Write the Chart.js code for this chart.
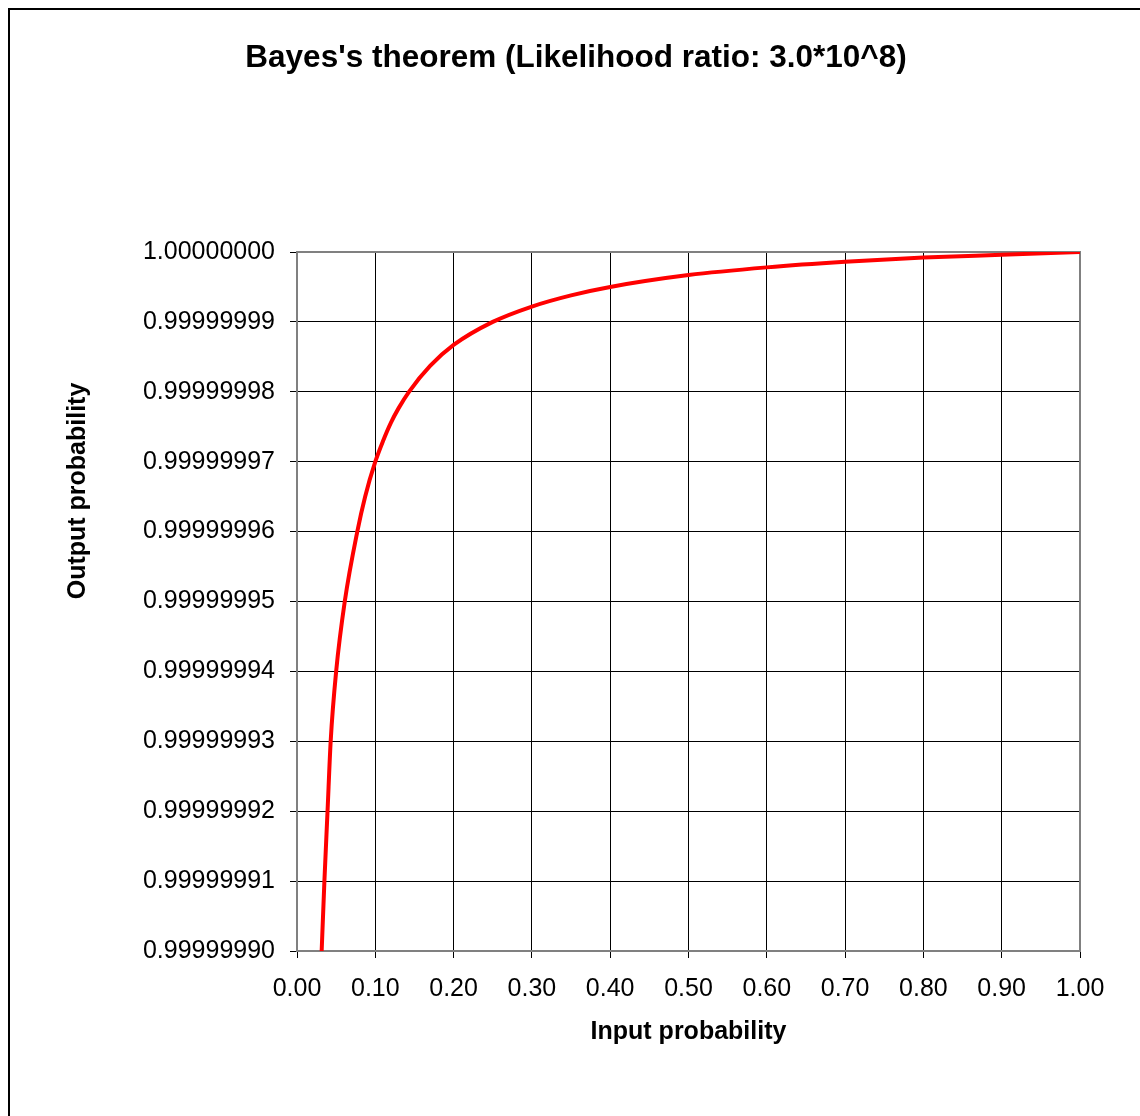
<!DOCTYPE html>
<html>
<head>
<meta charset="utf-8">
<script src="https://cdn.jsdelivr.net/npm/chart.js@4"></script>
<style>
  html, body { margin: 0; padding: 0; background: #fff; }
  #wrap { position: relative; width: 1140px; height: 1116px; overflow: hidden; }
  #frame { position: absolute; left: 8px; top: 8px; width: 1200px; height: 1200px;
           border-top: 2px solid #000; border-left: 2px solid #000; pointer-events: none; }
  canvas { position: absolute; left: 0; top: 0; }
</style>
</head>
<body>
<div id="wrap">
  <canvas id="bayesChart" width="1140" height="1116"></canvas>
  <div id="frame"></div>
</div>
<script>
// Values
const inputProb = [0.0315, 0.035, 0.039, 0.043, 0.050, 0.061, 0.077, 0.087, 0.100, 0.110,
  0.120, 0.130, 0.143, 0.170, 0.200, 0.250, 0.300, 0.350, 0.400, 0.500, 0.600, 0.700,
  0.800, 0.900, 1.000];
const outputProb = [0.99999990, 0.99999991, 0.99999992, 0.99999993, 0.99999994, 0.99999995,
  0.99999996, 0.999999965, 0.99999997, 0.999999973, 0.9999999756, 0.9999999777,
  0.99999998, 0.9999999837, 0.9999999867, 0.99999999, 0.9999999922, 0.9999999938,
  0.999999995, 0.9999999967, 0.9999999978, 0.9999999986, 0.9999999992, 0.9999999996,
  1.00000000];

// Axis ticks
const xTicks = [0, 0.1, 0.2, 0.3, 0.4, 0.5, 0.6, 0.7, 0.8, 0.9, 1.0];
const yTicks = [0.99999990, 0.99999991, 0.99999992, 0.99999993, 0.99999994, 0.99999995,
  0.99999996, 0.99999997, 0.99999998, 0.99999999, 1.00000000];

const chartTitle = "Bayes's theorem (Likelihood ratio: 3.0*10^8)";
const xTitle = 'Input probability';
const yTitle = 'Output probability';

const fontFamily = '"Liberation Sans", Arial, sans-serif';

// grey plot-area border, chart title and rotated y title
const plotFrame = {
  id: 'plotFrame',
  beforeDatasetsDraw(chart) {
    const { ctx, chartArea: a } = chart;
    ctx.save();
    ctx.strokeStyle = '#808080';
    ctx.lineWidth = 2;
    ctx.strokeRect(a.left, a.top, a.right - a.left, a.bottom - a.top);
    ctx.restore();
  },
  afterDraw(chart) {
    const ctx = chart.ctx;
    ctx.save();
    ctx.fillStyle = '#000';
    ctx.textAlign = 'center';
    ctx.font = 'bold 31.5px ' + fontFamily;
    ctx.textBaseline = 'alphabetic';
    ctx.fillText(chartTitle, 576, 67);
    ctx.translate(78, 491);
    ctx.rotate(-Math.PI / 2);
    ctx.font = 'bold 25px ' + fontFamily;
    ctx.textBaseline = 'middle';
    ctx.fillText(yTitle, 0, 0);
    ctx.restore();
  }
};

const ctx = document.getElementById('bayesChart').getContext('2d');
const chart = new Chart(ctx, {
  type: 'line',
  data: {
    datasets: [{
      data: inputProb.map((x, i) => ({ x: x, y: outputProb[i] })),
      borderColor: '#ff0000',
      borderWidth: 4,
      pointRadius: 0,
      fill: false,
      cubicInterpolationMode: 'monotone'
    }]
  },
  options: {
    responsive: false,
    animation: false,
    layout: { padding: { left: 0, right: 60, top: 252, bottom: 0 } },
    plugins: {
      legend: { display: false },
      tooltip: { enabled: false },
      title: { display: false }
    },
    scales: {
      x: {
        type: 'linear',
        min: 0,
        max: 1,
        afterBuildTicks: s => { s.ticks = xTicks.map(v => ({ value: v })); },
        afterFit: s => { s.height = 165; },
        border: { display: true, color: '#808080', width: 2 },
        grid: { color: '#000', lineWidth: 1, tickLength: 7, drawTicks: true },
        ticks: {
          color: '#000',
          padding: 16,
          maxRotation: 0,
          font: { family: fontFamily, size: 25 },
          callback: v => Number(v).toFixed(2)
        },
        title: {
          display: true,
          text: xTitle,
          color: '#000',
          font: { family: fontFamily, size: 25, weight: 'bold' },
          padding: { top: 0, bottom: 69 }
        }
      },
      y: {
        type: 'linear',
        min: 0.9999999,
        max: 1,
        afterBuildTicks: s => { s.ticks = yTicks.map(v => ({ value: v })); },
        afterFit: s => { s.width = 297; },
        border: { display: true, color: '#808080', width: 2 },
        grid: { color: '#000', lineWidth: 1, tickLength: 7, drawTicks: true },
        ticks: {
          color: '#000',
          padding: 15,
          font: { family: fontFamily, size: 25 },
          callback: v => Number(v).toFixed(8)
        }
      }
    }
  },
  plugins: [plotFrame]
});
</script>
</body>
</html>
